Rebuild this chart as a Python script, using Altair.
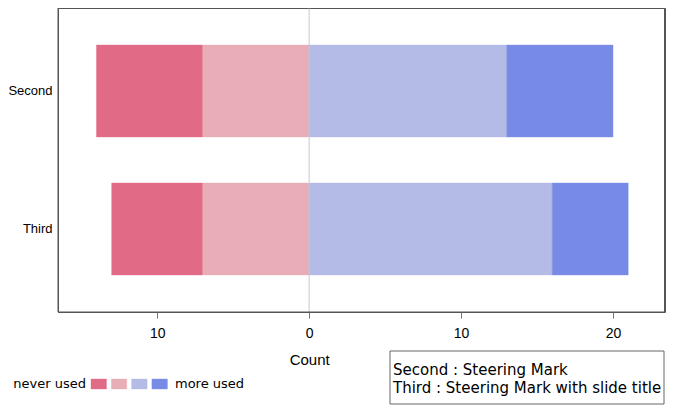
import altair as alt
import pandas as pd

# ---- data ----
questions = ["Second", "Third"]
levels = ["never used", "level 2", "level 3", "more used"]
never_used = [7, 6]
level_2 = [7, 7]
level_3 = [13, 16]
more_used = [7, 5]
colors = ["#E16A86", "#E8ADB7", "#B3BBE6", "#778BE6"]
x_ticks = [-10, 0, 10, 20]
legend_left = ["never used"]
legend_right = ["more used"]
key_lines = ["Second : Steering Mark", "Third : Steering Mark with slide title"]

# ---- diverging stack built from the arrays ----
rows = []
for i, q in enumerate(questions):
    a, b, c, d = never_used[i], level_2[i], level_3[i], more_used[i]
    segs = [(-(a + b), -b), (-b, 0), (0, c), (c, c + d)]
    for lev, (s, e) in zip(levels, segs):
        rows.append({"question": q, "level": lev, "start": s, "end": e})
df = pd.DataFrame(rows)

PW, PH = 607, 304
XMIN, XMAX = -16.53, 23.42
zero_px = (0 - XMIN) / (XMAX - XMIN) * PW

color_scale = alt.Scale(domain=levels, range=colors)
x_scale = alt.Scale(domain=[XMIN, XMAX], nice=False, zero=False)
y_scale = alt.Scale(domain=questions, paddingInner=0.3336, paddingOuter=0.268)

x_axis = alt.Axis(
    values=x_ticks,
    labelExpr="abs(datum.value)",
    title="Count",
    grid=False,
    domain=False,
    tickSize=6,
    tickColor="#777777",
    labelPadding=8,
    labelFontSize=14,
    titleFontSize=15,
    titleBaseline="alphabetic",
    titleAlign="center",
    titleX=zero_px,
    titleY=52,
)

bars = alt.Chart(df).mark_bar(strokeWidth=1, strokeOpacity=0.35).encode(
    x=alt.X("start:Q", scale=x_scale, axis=x_axis),
    x2="end:Q",
    y=alt.Y(
        "question:N",
        scale=y_scale,
        sort=questions,
        axis=alt.Axis(title=None, ticks=False, domain=False, labelPadding=6, labelFontSize=13),
    ),
    color=alt.Color("level:N", scale=color_scale, legend=None),
    stroke=alt.Stroke("level:N", scale=color_scale, legend=None),
)

zero = alt.Chart(pd.DataFrame({"start": [0]})).mark_rule(color="#c8c8c8", strokeWidth=1).encode(
    x=alt.X("start:Q", scale=x_scale, axis=x_axis)
)

# plot frame
frame = alt.Chart(pd.DataFrame({"k": [1]})).mark_rect(
    fill=None, fillOpacity=0, stroke="#555555", strokeWidth=1
).encode(x=alt.value(0), x2=alt.value(PW - 0.5), y=alt.value(0), y2=alt.value(PH))

# ---- custom legend ----
leg_df = pd.DataFrame({"level": levels, "idx": list(range(len(levels)))})
swatches = alt.Chart(leg_df).mark_rect(strokeWidth=1, strokeOpacity=0.35).transform_calculate(
    px="33 + 20.3 * datum.idx", px2="33 + 20.3 * datum.idx + 15.5"
).encode(
    x=alt.X("px:Q", scale=None),
    x2="px2:Q",
    y=alt.value(371),
    y2=alt.value(381),
    color=alt.Color("level:N", scale=color_scale, legend=None),
    stroke=alt.Stroke("level:N", scale=color_scale, legend=None),
)
left_txt = alt.Chart(pd.DataFrame({"t": legend_left})).mark_text(
    align="right", baseline="middle", font="DejaVu Sans", fontSize=13, color="black"
).encode(x=alt.value(28), y=alt.value(376), text="t:N")
right_txt = alt.Chart(pd.DataFrame({"t": legend_right})).mark_text(
    align="left", baseline="middle", font="DejaVu Sans", fontSize=13, color="black"
).encode(x=alt.value(117), y=alt.value(376), text="t:N")

# ---- key box ----
box = alt.Chart(pd.DataFrame({"k": [1]})).mark_rect(fill="white", stroke="#666666", strokeWidth=1).encode(
    x=alt.value(332), x2=alt.value(606), y=alt.value(343), y2=alt.value(396)
)
key_df = pd.DataFrame({"t": key_lines, "i": list(range(len(key_lines)))})
key_txt = alt.Chart(key_df).mark_text(
    align="left", baseline="middle", font="DejaVu Sans", fontSize=15, color="black"
).transform_calculate(py="362 + 18 * datum.i").encode(
    x=alt.value(335), y=alt.Y("py:Q", scale=None), text="t:N"
)

chart = alt.layer(bars, zero, frame, swatches, left_txt, right_txt, box, key_txt).properties(
    width=PW,
    height=PH,
    autosize=alt.AutoSizeParams(type="none"),
    padding={"left": 50, "top": 0, "right": 3, "bottom": 93},
).configure_view(
    stroke="#555555", strokeWidth=1
).configure_axis(
    labelFont="Liberation Sans", titleFont="Liberation Sans", labelColor="black",
    titleColor="black", titleFontWeight="normal"
)

chart.save("out.html", embed_options={"renderer": "svg", "actions": False})
